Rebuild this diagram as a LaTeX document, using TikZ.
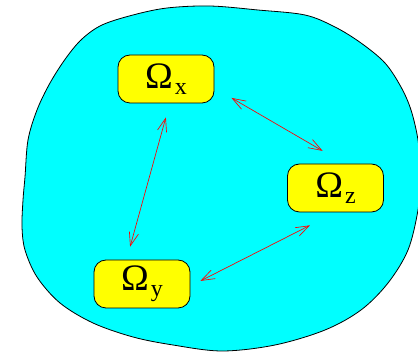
\documentclass[tikz,border=0pt]{standalone}
\usepackage{fontspec}
\setmainfont{Liberation Serif}
\usepackage{xcolor}
\usetikzlibrary{arrows.meta,positioning}
\definecolor{domfill}{RGB}{255,255,0}
\definecolor{regionfill}{RGB}{0,255,255}
\definecolor{linkred}{RGB}{255,0,0}
\newcommand{\omsub}[1]{\fontsize{28}{32}\selectfont Ω\hspace{1.5pt}\raisebox{-4.5pt}{\fontsize{18}{21}\selectfont #1}}

\begin{document}
\begin{tikzpicture}[
  x=0.75pt, y=-0.75pt,
  dom/.style={draw, line width=0.6pt, rounded corners=9pt, align=center, minimum width=72pt, minimum height=36pt, fill=domfill, inner sep=0pt},
  link/.style={{Straight Barb[length=10pt, width=7pt]}-{Straight Barb[length=10pt, width=7pt]}, linkred, line width=0.5pt}
]
\useasboundingbox (0,0) rectangle (418,352);
\draw[fill=regionfill, line width=0.6pt] plot[smooth cycle, tension=0.55] coordinates {
  (210,6) (258,10) (305,15) (335,27) (361,43) (385,63) (401,87) (411,110)
  (418,140) (421,175) (418,210) (408,250) (388,283) (361,310) (325,330)
  (275,345) (222,351) (173,345) (133,337) (93,323) (60,303) (37,277)
  (25,250) (22,227) (23,200) (25,177) (28,140) (37,110) (50,83) (66,58)
  (82,39) (102,25) (133,15) (167,8)};
\node[dom] (omx) at (166,79) {\omsub{x}};
\node[dom] (omy) at (142,284) {\omsub{y}};
\node[dom] (omz) at (335.5,188) {\omsub{z}};
\draw[link, shorten <=10.9pt, shorten >=10pt] ([xshift=2.8pt]omx.south) -- ([xshift=-11.6pt]omy.north);
\draw[link, shorten <=14.8pt, shorten >=19pt] ([yshift=-6.75pt]omx.east) -- ([xshift=6.75pt]omz.north);
\draw[link, shorten <=8.4pt, shorten >=21.5pt] ([yshift=-1.5pt]omy.east) -- (omz.south);
\end{tikzpicture}
\end{document}
